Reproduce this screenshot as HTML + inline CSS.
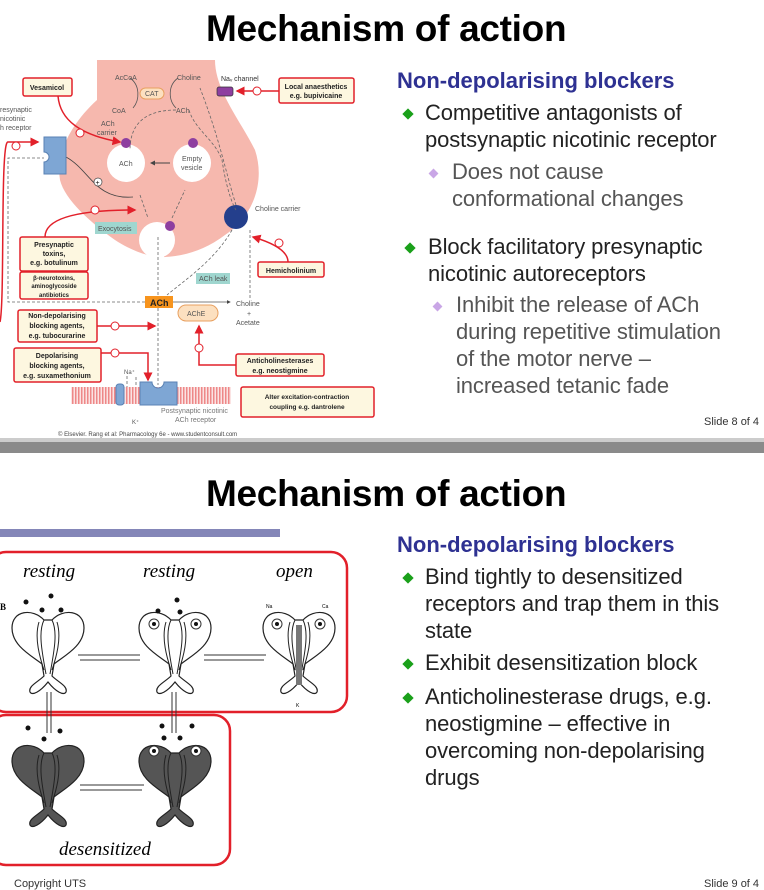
<!DOCTYPE html>
<html><head><meta charset="utf-8"><style>
body{margin:0;width:764px;height:888px;overflow:hidden;background:#fff;font-family:"Liberation Sans",Arial,sans-serif;position:relative}
.t{position:absolute;white-space:nowrap}
.title{font-weight:bold;font-size:37px;color:#000;letter-spacing:-0.3px}
.h{color:#2e3192;font-weight:bold;font-size:22px}
.b{font-size:22px;color:#222;line-height:27px;letter-spacing:-0.1px}
.s{font-size:22px;color:#555;line-height:27px;letter-spacing:-0.1px}
.dg{position:absolute;width:8px;height:8px;background:#1aa01a;transform:rotate(45deg)}
.dl{position:absolute;width:7px;height:7px;background:#c9a6e6;transform:rotate(45deg)}
svg{position:absolute;left:0;top:0}
</style></head><body>
<div class="t title" style="left:206px;top:8px">Mechanism of action</div>
<div class="t h" style="left:397px;top:68px">Non-depolarising blockers</div>
<div class="dg" style="left:404px;top:110px"></div>
<div class="t b" style="left:425px;top:99px">Competitive antagonists of<br>postsynaptic nicotinic receptor</div>
<div class="dl" style="left:430px;top:170px"></div>
<div class="t s" style="left:452px;top:158px">Does not cause<br>conformational changes</div>
<div class="dg" style="left:406px;top:244px"></div>
<div class="t b" style="left:428px;top:233px">Block facilitatory presynaptic<br>nicotinic autoreceptors</div>
<div class="dl" style="left:434px;top:303px"></div>
<div class="t s" style="left:456px;top:291px">Inhibit the release of ACh<br>during repetitive stimulation<br>of the motor nerve –<br>increased tetanic fade</div>
<div class="t" style="left:704px;top:416px;font-size:11px;color:#333">Slide 8 of 4</div>

<div style="position:absolute;left:0;top:438px;width:764px;height:4px;background:#ccc"></div>
<div style="position:absolute;left:0;top:442px;width:764px;height:11px;background:#8a8a8a"></div>

<div class="t title" style="left:206px;top:473px">Mechanism of action</div>
<div style="position:absolute;left:0;top:529px;width:280px;height:8px;background:#8486b8"></div>
<div class="t h" style="left:397px;top:532px">Non-depolarising blockers</div>
<div class="dg" style="left:404px;top:574px"></div>
<div class="t b" style="left:425px;top:563px">Bind tightly to desensitized<br>receptors and trap them in this<br>state</div>
<div class="dg" style="left:404px;top:660px"></div>
<div class="t b" style="left:425px;top:649px">Exhibit desensitization block</div>
<div class="dg" style="left:404px;top:694px"></div>
<div class="t b" style="left:425px;top:683px">Anticholinesterase drugs, e.g.<br>neostigmine – effective in<br>overcoming non-depolarising<br>drugs</div>
<div class="t" style="left:14px;top:878px;font-size:11px;color:#333">Copyright UTS</div>
<div class="t" style="left:704px;top:878px;font-size:11px;color:#333">Slide 9 of 4</div>

<svg width="764" height="888" viewBox="0 0 764 888" font-family="Liberation Sans, Arial, sans-serif">
<defs>
<marker id="ar" markerWidth="6" markerHeight="6" refX="5" refY="3" orient="auto"><path d="M0,0 L6,3 L0,6Z" fill="#e2202a"/></marker>
<marker id="ak" markerWidth="5" markerHeight="5" refX="4" refY="2.5" orient="auto"><path d="M0,0 L5,2.5 L0,5Z" fill="#444"/></marker>
<pattern id="hatch" width="3" height="4" patternUnits="userSpaceOnUse"><rect width="3" height="4" fill="#fbe3e3"/><rect width="1.5" height="4" fill="#e88"/></pattern>
<g id="rec">
<path d="M-4 8 C-15 -4 -36 -2 -36 16 C-36 34 -16 44 -6 52 L-4 64 C-10 70 -20 74 -18 80 C-16 84 -8 80 0 70 C8 80 16 84 18 80 C20 74 10 70 4 64 L6 52 C16 44 36 34 36 16 C36 -2 15 -4 4 8 Z" stroke="#222" stroke-width="1.2"/>
<path d="M-4 8 C-10 20 -6 40 -2 62 M4 8 C10 20 6 40 2 62 M-9 10 C-14 26 -8 46 -4 58 M9 10 C14 26 8 46 4 58" stroke="#222" stroke-width="1" fill="none"/>
</g>
</defs>
<path d="M97 60 L215 60 C215 90 240 120 255 150 C265 180 255 215 225 235 C205 250 185 256 165 257 C150 258 130 250 115 240 C90 222 65 200 60 180 C55 150 75 120 97 100 Z" fill="#f6b8ae"/>
<text x="115" y="80" font-size="7" fill="#555">AcCoA</text><text x="177" y="80" font-size="7" fill="#555">Choline</text>
<rect x="140" y="88" width="24" height="11" rx="5.5" fill="#fce0c0" stroke="#e8a060"/><text x="145" y="96" font-size="7" fill="#555">CAT</text>
<text x="112" y="113" font-size="7" fill="#555">CoA</text><text x="176" y="113" font-size="7" fill="#555">ACh</text>
<text x="101" y="126" font-size="7" fill="#555">ACh</text><text x="97" y="135" font-size="7" fill="#555">carrier</text>
<path d="M130 78 C140 85 140 100 133 108 M178 78 C168 85 168 100 176 108" stroke="#555" fill="none" stroke-width="0.8"/>
<circle cx="126" cy="163" r="19" fill="#fff"/><text x="119" y="166" font-size="7" fill="#555">ACh</text>
<circle cx="192" cy="163" r="19" fill="#fff"/><text x="182" y="161" font-size="7" fill="#555">Empty</text><text x="181" y="170" font-size="7" fill="#555">vesicle</text>
<line x1="170" y1="163" x2="151" y2="163" stroke="#444" marker-end="url(#ak)"/>
<circle cx="157" cy="240" r="18" fill="#fff"/>
<rect x="150" y="240" width="14" height="20" fill="#fff"/>
<circle cx="126" cy="143" r="5" fill="#8e3fa0"/><circle cx="193" cy="143" r="5" fill="#8e3fa0"/><circle cx="170" cy="226" r="5" fill="#8e3fa0"/>
<rect x="95" y="222" width="42" height="12" fill="#9fd6cf"/><text x="98" y="231" font-size="7" fill="#555">Exocytosis</text>
<circle cx="236" cy="217" r="12" fill="#243f8c"/><text x="255" y="211" font-size="7" fill="#555">Choline carrier</text>
<rect x="217" y="87" width="16" height="9" rx="2" fill="#8e3fa0" stroke="#333" stroke-width="0.7"/>
<text x="221" y="81" font-size="7" fill="#333">Naᵥ channel</text>
<g stroke="#666" stroke-dasharray="3,2" fill="none" stroke-width="0.8">
<path d="M176 110 C150 110 130 120 130 150"/><path d="M189 110 C195 130 215 140 222 160 C225 180 230 200 236 210 M236 205 C225 170 220 140 200 88"/>
<path d="M140 195 L148 218 M172 218 L185 190"/><path d="M158 237 L158 295 M232 230 C215 260 185 280 167 295"/>
<path d="M250 230 L250 300"/><path d="M145 302 L8 302 L8 158 L44 158"/><path d="M158 308 L158 385"/>
<path d="M127 376 L127 400 M136 400 L136 376"/>
</g>
<path d="M66 157 C90 170 95 200 133 197" stroke="#444" fill="none" stroke-width="0.8"/>
<circle cx="98" cy="182" r="4" fill="#fff" stroke="#444" stroke-width="0.7"/><text x="95.5" y="185" font-size="7">+</text>
<path d="M44 137 L66 137 L66 174 L44 174 L44 162 A5 5 0 0 0 44 152 Z" fill="#7ea6d4" stroke="#5a82b4"/>
<text x="0" y="112" font-size="7" fill="#555">resynaptic</text><text x="0" y="121" font-size="7" fill="#555">nicotinic</text><text x="0" y="130" font-size="7" fill="#555">h receptor</text>
<rect x="196" y="273" width="34" height="11" fill="#9fd6cf"/><text x="199" y="281" font-size="7" fill="#555">ACh leak</text>
<rect x="145" y="296" width="28" height="12" fill="#f7941d"/><text x="150" y="306" font-size="9" font-weight="bold" fill="#222">ACh</text>
<line x1="173" y1="302" x2="230" y2="302" stroke="#555" stroke-width="0.8" marker-end="url(#ak)"/>
<text x="236" y="306" font-size="7" fill="#555">Choline</text><text x="247" y="316" font-size="7" fill="#555">+</text><text x="236" y="325" font-size="7" fill="#555">Acetate</text>
<rect x="178" y="305" width="40" height="16" rx="8" fill="#fce0c0" stroke="#e8a060"/><text x="187" y="316" font-size="7" fill="#555">AChE</text>
<rect x="71" y="387" width="160" height="17" fill="url(#hatch)"/>
<rect x="116" y="384" width="8" height="21" rx="3" fill="#7ea6d4" stroke="#5a82b4"/>
<path d="M140 382 L152 382 A6 6 0 0 0 164 382 L177 382 L177 405 L140 405 Z" fill="#7ea6d4" stroke="#5a82b4"/>
<text x="124" y="374" font-size="6" fill="#555">Na⁺</text><text x="132" y="424" font-size="6" fill="#555">K⁺</text>
<text x="161" y="413" font-size="7" fill="#777">Postsynaptic nicotinic</text><text x="175" y="422" font-size="7" fill="#777">ACh receptor</text>
<text x="58" y="436" font-size="6" fill="#444">© Elsevier. Rang et al: Pharmacology 6e - www.studentconsult.com</text>
<g fill="#fdf7e0" stroke="#e2202a" stroke-width="1.5">
<rect x="23" y="78" width="49" height="18" rx="2"/><rect x="279" y="78" width="75" height="25" rx="2"/>
<rect x="20" y="237" width="68" height="34" rx="2"/><rect x="20" y="272" width="68" height="27" rx="2"/>
<rect x="258" y="262" width="66" height="15" rx="2"/><rect x="18" y="310" width="79" height="32" rx="2"/>
<rect x="14" y="348" width="87" height="34" rx="2"/><rect x="236" y="354" width="88" height="22" rx="2"/>
<rect x="241" y="387" width="133" height="30" rx="2"/>
</g>
<g font-size="7" font-weight="bold" fill="#222" text-anchor="middle">
<text x="47" y="90">Vesamicol</text><text x="316" y="89">Local anaesthetics</text><text x="316" y="98">e.g. bupivicaine</text>
<text x="54" y="247">Presynaptic</text><text x="54" y="256">toxins,</text><text x="54" y="265">e.g. botulinum</text>
<text x="54" y="280" font-size="6">β-neurotoxins,</text><text x="54" y="288" font-size="6">aminoglycoside</text><text x="54" y="297" font-size="6">antibiotics</text>
<text x="291" y="273">Hemicholinium</text>
<text x="57" y="318">Non-depolarising</text><text x="57" y="328">blocking agents,</text><text x="57" y="338">e.g. tubocurarine</text>
<text x="57" y="358">Depolarising</text><text x="57" y="368">blocking agents,</text><text x="57" y="378">e.g. suxamethonium</text>
<text x="280" y="363">Anticholinesterases</text><text x="280" y="373">e.g. neostigmine</text>
<text x="307" y="399" font-size="6.5">Alter excitation-contraction</text><text x="307" y="409" font-size="6.5">coupling e.g. dantrolene</text>
</g>
<g stroke="#e2202a" stroke-width="1.5" fill="none" marker-end="url(#ar)">
<path d="M58 96 C60 120 80 135 120 142"/><path d="M279 91 L237 91"/><path d="M45 237 C45 215 90 210 135 210"/>
<path d="M288 262 C288 250 270 242 253 237"/><path d="M97 326 L155 326"/><path d="M0 322 C5 300 0 140 8 142 L38 142" />
<path d="M101 353 L148 353 L148 380"/><path d="M236 365 L199 365 L199 326"/>
</g>
<g fill="#fff" stroke="#e2202a" stroke-width="1"><circle cx="80" cy="133" r="4"/><circle cx="257" cy="91" r="4"/><circle cx="95" cy="210" r="4"/><circle cx="279" cy="243" r="4"/><circle cx="115" cy="326" r="4"/><circle cx="16" cy="146" r="4"/><circle cx="115" cy="353" r="4"/><circle cx="199" cy="348" r="4"/></g>
<rect x="-10" y="552" width="357" height="160" rx="16" fill="none" stroke="#e2202a" stroke-width="2.5"/>
<rect x="-10" y="715" width="240" height="150" rx="16" fill="none" stroke="#e2202a" stroke-width="2.5"/>
<g font-family="Liberation Serif, serif" font-style="italic" font-size="19" fill="#000">
<text x="23" y="577">resting</text><text x="143" y="577">resting</text><text x="276" y="577">open</text><text x="59" y="855">desensitized</text>
</g>
<text x="0" y="610" font-family="Liberation Serif, serif" font-weight="bold" font-size="9">B</text>
<use href="#rec" x="48" y="612" fill="#fff"/>
<use href="#rec" x="175" y="612" fill="#fff"/>
<use href="#rec" x="299" y="612" fill="#fff"/>
<use href="#rec" x="48" y="745" fill="#555"/>
<use href="#rec" x="175" y="745" fill="#555"/>
<g fill="#111"><circle cx="26" cy="602" r="2.5"/><circle cx="51" cy="596" r="2.5"/><circle cx="42" cy="610" r="2.5"/><circle cx="61" cy="610" r="2.5"/>
<circle cx="177" cy="600" r="2.5"/><circle cx="158" cy="611" r="2.5"/><circle cx="180" cy="612" r="2.5"/>
<circle cx="28" cy="728" r="2.5"/><circle cx="60" cy="731" r="2.5"/><circle cx="44" cy="739" r="2.5"/>
<circle cx="162" cy="726" r="2.5"/><circle cx="192" cy="726" r="2.5"/><circle cx="164" cy="738" r="2.5"/><circle cx="180" cy="738" r="2.5"/></g>
<g fill="#fff" stroke="#333"><circle cx="154" cy="624" r="5"/><circle cx="196" cy="624" r="5"/><circle cx="277" cy="624" r="5"/><circle cx="320" cy="624" r="5"/><circle cx="154" cy="751" r="5"/><circle cx="196" cy="751" r="5"/></g>
<g fill="#111"><circle cx="154" cy="624" r="2"/><circle cx="196" cy="624" r="2"/><circle cx="277" cy="624" r="2"/><circle cx="320" cy="624" r="2"/><circle cx="154" cy="751" r="2"/><circle cx="196" cy="751" r="2"/></g>
<rect x="296" y="625" width="6" height="60" fill="#777"/>
<g stroke="#333" stroke-width="1"><line x1="78" y1="655" x2="140" y2="655"/><line x1="80" y1="660" x2="140" y2="660"/>
<line x1="204" y1="655" x2="266" y2="655"/><line x1="204" y1="660" x2="264" y2="660"/>
<line x1="80" y1="785" x2="144" y2="785"/><line x1="80" y1="790" x2="142" y2="790"/>
<line x1="47" y1="692" x2="47" y2="733"/><line x1="51" y1="692" x2="51" y2="733"/>
<line x1="172" y1="692" x2="172" y2="733"/><line x1="176" y1="692" x2="176" y2="733"/></g>
<text x="266" y="608" font-size="5">Na</text><text x="322" y="608" font-size="5">Ca</text><text x="296" y="707" font-size="5">K</text>
</svg>
</body></html>
